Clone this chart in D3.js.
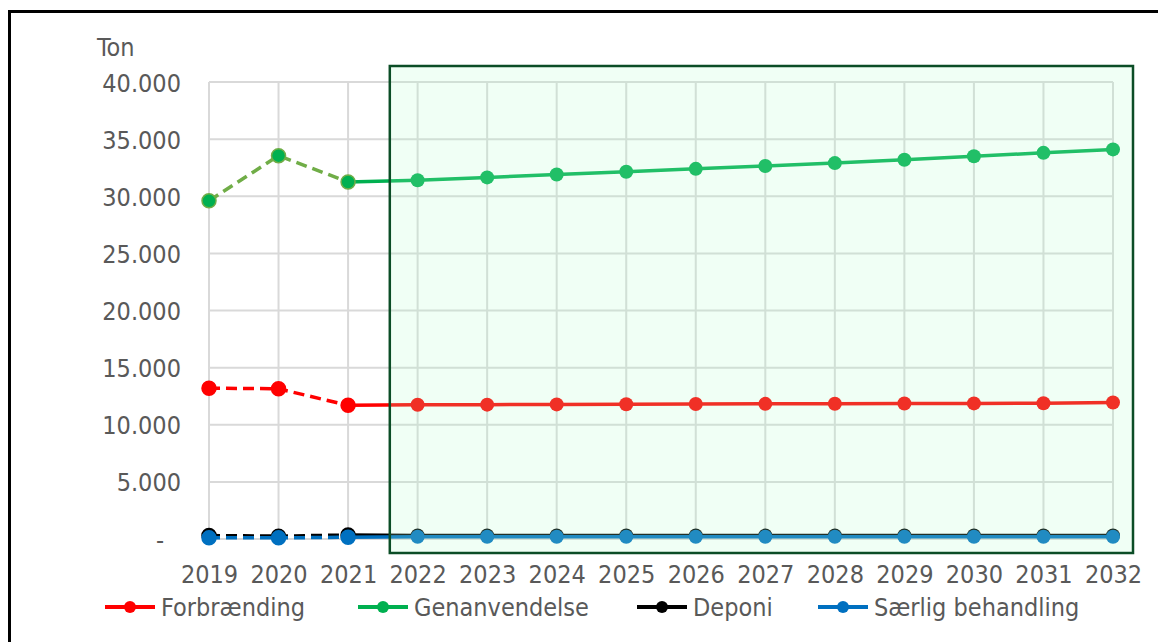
<!DOCTYPE html>
<html>
<head>
<meta charset="utf-8">
<script src="https://cdn.jsdelivr.net/npm/d3@7"></script>
<style>
  body { margin: 0; background: #fff; }
  svg { display: block; font-family: "DejaVu Sans Condensed", "DejaVu Sans", Verdana, sans-serif; font-stretch: condensed; }
  .tick text { fill: #595959; }
</style>
</head>
<body>
<svg width="1158" height="642"></svg>
<script>
// data (tons)
const years = [2019, 2020, 2021, 2022, 2023, 2024, 2025, 2026, 2027, 2028, 2029, 2030, 2031, 2032]
const forbraending   = [13200, 13150, 11700, 11750, 11760, 11780, 11800, 11820, 11830, 11840, 11860, 11870, 11880, 11950]
const genanvendelse  = [29600, 33550, 31250, 31400, 31650, 31900, 32150, 32400, 32650, 32900, 33200, 33500, 33800, 34100]
const deponi         = [300, 250, 350, 300, 300, 300, 300, 300, 300, 300, 300, 300, 300, 300]
const saerlig        = [100, 100, 150, 200, 200, 200, 200, 200, 200, 200, 200, 200, 200, 200]
const yTicks = [0, 5000, 10000, 15000, 20000, 25000, 30000, 35000, 40000]
const historyEnd = 2021     // dashed up to here, solid after
const forecastStart = 2021.6 // left edge of highlight box

const series = [
  {name: 'Forbrænding', values: forbraending, color: '#ff0000', dash: '#ff0000'},
  {name: 'Genanvendelse', values: genanvendelse, color: '#00b050', dash: '#70ad47'},
  {name: 'Deponi', values: deponi, color: '#000000', dash: '#000000'},
  {name: 'Særlig behandling', values: saerlig, color: '#0070c0', dash: '#0070c0'}
]

const svg = d3.select('svg')

// outer frame (only top and left visible)
svg.append('path')
  .attr('d', 'M9.5,1200 V11.5 H1200')
  .attr('fill', 'none')
  .attr('stroke', '#000')
  .attr('stroke-width', 3)

const xScale = d3.scaleLinear().domain([2019, 2032]).range([209, 1113])
const yScale = d3.scaleLinear().domain([0, 40000]).range([539, 82])

const locale = d3.formatLocale({decimal: ',', thousands: '.', grouping: [3], currency: ['', '']})
const fmt = locale.format(',.0f')

// gridlines
const grid = svg.append('g')
grid.selectAll('.hgrid')
  .data(yTicks)
  .enter()
  .append('line')
  .attr('x1', xScale(2019)).attr('x2', xScale(2032))
  .attr('y1', d => yScale(d)).attr('y2', d => yScale(d))
  .attr('stroke', '#d9d9d9').attr('stroke-width', 2)
grid.selectAll('.vgrid')
  .data(years)
  .enter()
  .append('line')
  .attr('x1', d => xScale(d)).attr('x2', d => xScale(d))
  .attr('y1', yScale(0)).attr('y2', yScale(40000))
  .attr('stroke', '#d9d9d9').attr('stroke-width', 2)

// axes (labels only)
const yAxis = d3.axisLeft(yScale).tickValues(yTicks).tickSize(0).tickPadding(0)
  .tickFormat(d => d === 0 ? '-' : fmt(d))
const gy = svg.append('g').attr('transform', 'translate(181,0)').call(yAxis)
gy.select('.domain').remove()
gy.selectAll('text')
  .style('font-size', '25px')
  .style('font-family', '"DejaVu Sans Condensed", "DejaVu Sans", sans-serif')
  .attr('dy', '0.36em')
gy.selectAll('.tick').filter(d => d === 0).select('text').attr('dx', -17)

const xAxis = d3.axisBottom(xScale).tickValues(years).tickSize(0).tickPadding(0)
  .tickFormat(d => String(d))
const gx = svg.append('g').attr('transform', 'translate(0,574)').call(xAxis)
gx.select('.domain').remove()
gx.selectAll('text')
  .style('font-size', '25px')
  .style('font-family', '"DejaVu Sans Condensed", "DejaVu Sans", sans-serif')
  .attr('dy', '0.36em')

svg.append('text')
  .attr('x', 97).attr('y', 56)
  .attr('fill', '#595959')
  .style('font-size', '25px')
  .text('Ton')

// lines
const line = d3.line().x(d => xScale(d.year)).y(d => yScale(d.value))

series.forEach(s => {
  let pts = years.map((y, i) => ({year: y, value: s.values[i]}))
  let hist = pts.filter(d => d.year <= historyEnd)
  let proj = pts.filter(d => d.year >= historyEnd)
  let g = svg.append('g').attr('class', 'series')
  g.append('path')
    .datum(hist)
    .attr('d', line)
    .attr('fill', 'none')
    .attr('stroke', s.dash)
    .attr('stroke-width', 3.5)
    .attr('stroke-dasharray', '11,6')
  g.append('path')
    .datum(proj)
    .attr('d', line)
    .attr('fill', 'none')
    .attr('stroke', s.color)
    .attr('stroke-width', 3.5)
  g.selectAll('circle')
    .data(pts)
    .enter()
    .append('circle')
    .attr('cx', d => xScale(d.year))
    .attr('cy', d => yScale(d.value))
    .attr('r', 7)
    .attr('fill', s.color)
    .attr('stroke', d => d.year <= historyEnd ? s.dash : 'none')
    .attr('stroke-width', 1.5)
})

// forecast highlight box, translucent over the lines
svg.append('rect')
  .attr('x', xScale(forecastStart))
  .attr('y', yScale(40000) - 16)
  .attr('width', xScale(2032) + 20 - xScale(forecastStart))
  .attr('height', yScale(0) + 14 - (yScale(40000) - 16))
  .attr('fill', 'rgb(176,255,200)')
  .attr('fill-opacity', 0.19)
  .attr('stroke', '#0b4d26')
  .attr('stroke-width', 2.5)

// legend
const legendX = [105, 358, 637, 818]
const legend = svg.selectAll('.legend')
  .data(series)
  .enter()
  .append('g')
  .attr('class', 'legend')
  .attr('transform', (d, i) => 'translate(' + legendX[i] + ',607)')
legend.append('line')
  .attr('x1', 0).attr('x2', 50)
  .attr('stroke', d => d.color)
  .attr('stroke-width', 4)
legend.append('circle')
  .attr('cx', 25).attr('r', 6)
  .attr('fill', d => d.color)
legend.append('text')
  .attr('x', 56).attr('dy', '0.36em')
  .attr('fill', '#595959')
  .style('font-size', '25px')
  .text(d => d.name)
</script>
</body>
</html>
